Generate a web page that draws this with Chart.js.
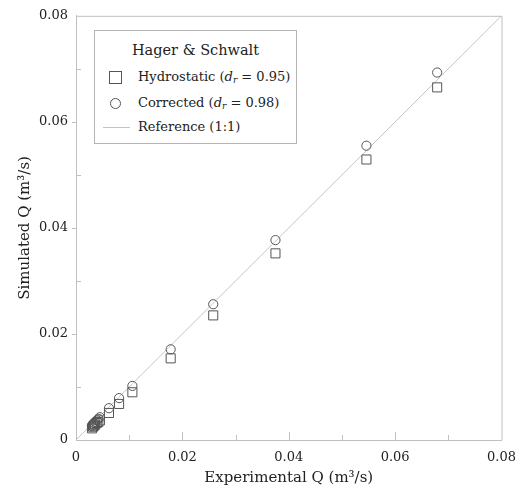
<!DOCTYPE html>
<html>
<head>
<meta charset="utf-8">
<script src="https://cdn.jsdelivr.net/npm/chart.js@4/dist/chart.umd.min.js"></script>
<style>
html,body{margin:0;padding:0;background:#fff;}
#wrap{position:relative;width:526px;height:499px;}
#legend{position:absolute;left:94px;top:30px;width:203px;height:114px;border:1px solid #b4b4b4;background:#fff;font-family:"DejaVu Serif",serif;color:#222;box-sizing:border-box;}
#legend .t{position:absolute;left:0;right:0;text-align:center;font-size:14.5px;line-height:18px;}
#legend .row{position:absolute;left:43px;font-size:13px;line-height:18px;white-space:nowrap;}
#legend .mk{position:absolute;box-sizing:border-box;}
#legend sub{font-size:9px;vertical-align:-2px;line-height:0;}
</style>
</head>
<body>
<div id="wrap">
<canvas id="c" width="526" height="499"></canvas>
<div id="legend">
  <div class="t" style="top:10px">Hager &amp; Schwalt</div>
  <div class="mk" style="left:14px;top:40px;width:13px;height:13px;border:1px solid #555;"></div>
  <div class="row" style="top:37px">Hydrostatic (<i>d</i><sub><i>r</i></sub> = 0.95)</div>
  <div class="mk" style="left:15px;top:67px;width:11px;height:11px;border:1px solid #555;border-radius:50%;"></div>
  <div class="row" style="top:63px">Corrected (<i>d</i><sub><i>r</i></sub> = 0.98)</div>
  <div class="mk" style="left:8px;top:96px;width:27px;height:1px;background:#c4c4c4;"></div>
  <div class="row" style="top:87px">Reference (1:1)</div>
</div>
</div>
<script>
// ---- data ----
const experimentalQ = [0.0030,0.0032,0.0034,0.0036,0.0039,0.0042,0.0045,0.0062,0.0081,0.0106,0.0178,0.0258,0.0375,0.0546,0.0679];
const hydrostaticQ  = [0.0022,0.0025,0.0027,0.0029,0.0032,0.0034,0.0037,0.0051,0.0068,0.0090,0.0154,0.0235,0.0352,0.0529,0.0665];
const correctedQ    = [0.0027,0.0030,0.0032,0.0034,0.0037,0.0040,0.0043,0.0060,0.0079,0.0102,0.0171,0.0256,0.0377,0.0555,0.0693];
const referenceLine = [0, 0.08];
const majorTicks = [0, 0.02, 0.04, 0.06, 0.08];
const minorTicks = [0.01, 0.03, 0.05, 0.07];
const xTitle = 'Experimental Q (m³/s)';
const yTitle = 'Simulated Q (m³/s)';

const FONT = '"DejaVu Serif", serif';
const axisCol = '#c0c0c0';

const toPts = (xs, ys) => xs.map((x, i) => ({x: x, y: ys[i]}));

const framePlugin = {
  id: 'frameTicks',
  afterDatasetsDraw(chart) {
    const ctx = chart.ctx, a = chart.chartArea;
    const xs = chart.scales.x, ys = chart.scales.y;
    ctx.save();
    ctx.strokeStyle = axisCol;
    ctx.lineWidth = 1;
    ctx.beginPath();
    // frame
    ctx.moveTo(a.left + 0.5, a.top + 0.5); ctx.lineTo(a.right + 0.5, a.top + 0.5);
    ctx.lineTo(a.right + 0.5, a.bottom + 0.5); ctx.lineTo(a.left + 0.5, a.bottom + 0.5);
    ctx.lineTo(a.left + 0.5, a.top + 0.5);
    // x ticks (inside)
    majorTicks.forEach(v => { if (v > 0 && v < 0.08) { const p = Math.round(xs.getPixelForValue(v)) + 0.5; ctx.moveTo(p, a.bottom); ctx.lineTo(p, a.bottom - 8); } });
    minorTicks.forEach(v => { const p = Math.round(xs.getPixelForValue(v)) + 0.5; ctx.moveTo(p, a.bottom); ctx.lineTo(p, a.bottom - 5); });
    // y ticks
    majorTicks.forEach(v => { if (v > 0 && v < 0.08) { const p = Math.round(ys.getPixelForValue(v)) + 0.5; ctx.moveTo(a.left - 4, p); ctx.lineTo(a.left, p); } });
    minorTicks.forEach(v => { const p = Math.round(ys.getPixelForValue(v)) + 0.5; ctx.moveTo(a.left, p); ctx.lineTo(a.left + 5, p); });
    ctx.stroke();
    ctx.restore();
  }
};

const tickFmt = v => (v === 0 ? '0' : v.toFixed(2));

new Chart(document.getElementById('c'), {
  type: 'scatter',
  data: {
    datasets: [
      {
        type: 'line',
        label: 'Reference (1:1)',
        data: toPts(referenceLine, referenceLine),
        borderColor: '#c6c6c6',
        borderWidth: 1,
        pointRadius: 0,
        fill: false,
        order: 3
      },
      {
        label: 'Hydrostatic',
        data: toPts(experimentalQ, hydrostaticQ),
        pointStyle: 'rect',
        pointRadius: 6.4,
        pointBorderWidth: 1,
        borderColor: '#555',
        backgroundColor: 'rgba(0,0,0,0)',
        order: 2
      },
      {
        label: 'Corrected',
        data: toPts(experimentalQ, correctedQ),
        pointStyle: 'circle',
        pointRadius: 4.6,
        pointBorderWidth: 1,
        borderColor: '#555',
        backgroundColor: 'rgba(0,0,0,0)',
        order: 1
      }
    ]
  },
  options: {
    responsive: false,
    animation: false,
    layout: {padding: {top: 15, right: 23, left: 0, bottom: 0}},
    plugins: {legend: {display: false}, tooltip: {enabled: false}},
    scales: {
      x: {
        type: 'linear', min: 0, max: 0.08,
        afterBuildTicks: s => { s.ticks = majorTicks.map(v => ({value: v})); },
        afterFit: s => { s.height = 59; },
        grid: {display: true, drawOnChartArea: false, drawTicks: false},
        border: {display: true, color: axisCol},
        ticks: {color: '#222', font: {family: FONT, size: 13}, padding: 10, maxRotation: 0, callback: tickFmt},
        title: {display: true, text: xTitle, color: '#222', font: {family: FONT, size: 15}, padding: {top: 0, bottom: 12}}
      },
      y: {
        type: 'linear', min: 0, max: 0.08,
        afterBuildTicks: s => { s.ticks = majorTicks.map(v => ({value: v})); },
        afterFit: s => { s.width = 76; },
        grid: {display: true, drawOnChartArea: false, drawTicks: false},
        border: {display: true, color: axisCol},
        ticks: {color: '#222', font: {family: FONT, size: 13}, padding: 8, callback: tickFmt},
        title: {display: true, text: yTitle, color: '#222', font: {family: FONT, size: 15}, padding: {top: 16, bottom: 0}}
      }
    }
  },
  plugins: [framePlugin]
});
</script>
</body>
</html>
